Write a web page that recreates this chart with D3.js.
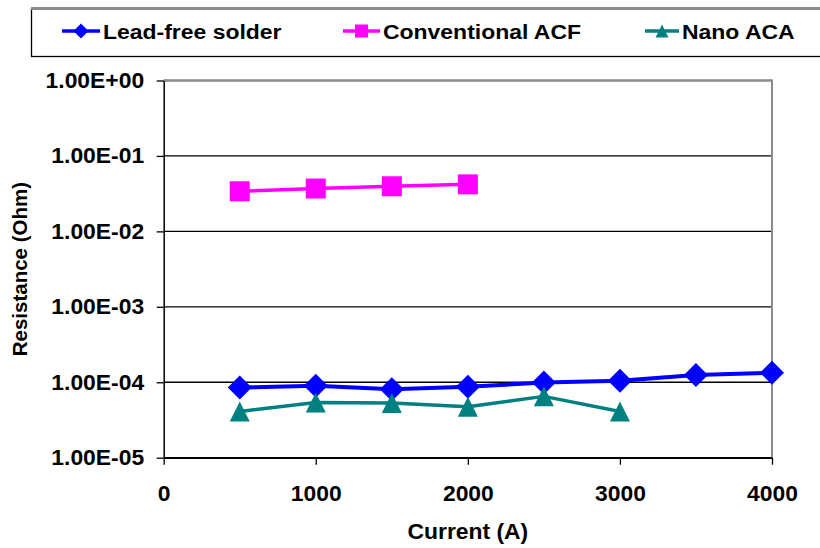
<!DOCTYPE html>
<html>
<head>
<meta charset="utf-8">
<script src="https://cdn.jsdelivr.net/npm/d3@7"></script>
<style>
  body { margin: 0; background: #fff; }
  text { font-family: "Liberation Sans", Arial, sans-serif; font-weight: bold; fill: #000; }
</style>
</head>
<body>
<div id="chart"></div>
<script>
// data
const currents = [500, 1000, 1500, 2000, 2500, 3000, 3500, 4000];
const leadFree = [8.5e-5, 9.0e-5, 8.1e-5, 8.7e-5, 9.9e-5, 1.05e-4, 1.25e-4, 1.34e-4];
const convACF = [0.034, 0.037, 0.0396, 0.042];
const nanoACA = [4.1e-5, 5.4e-5, 5.3e-5, 4.75e-5, 6.5e-5, 4.1e-5];
const xTicks = [0, 1000, 2000, 3000, 4000];
const yTicks = [1, 1e-1, 1e-2, 1e-3, 1e-4, 1e-5];
const yTickLabels = ['1.00E+00', '1.00E-01', '1.00E-02', '1.00E-03', '1.00E-04', '1.00E-05'];

const series = [
  { name: 'Lead-free solder', values: leadFree, color: '#0000FF', marker: 'diamond', lw: 4, size: 24 },
  { name: 'Conventional ACF', values: convACF, color: '#FF00FF', marker: 'square', lw: 3.5, size: 20 },
  { name: 'Nano ACA', values: nanoACA, color: '#008080', marker: 'triangle', lw: 3.5, size: 20 }
];

const W = 820, H = 548;
const plot = { left: 163.7, right: 772, top: 80.5, bottom: 457.7 };
const FS = 22;   // axis text size
const SX = 1.04; // picture text is a bit wider than normal Arial bold

const svg = d3.select('#chart').append('svg')
  .attr('width', W).attr('height', H);

const x = d3.scaleLinear().domain([0, 4000]).range([plot.left, plot.right]);
const y = d3.scaleLog().domain([1e-5, 1]).range([plot.bottom, plot.top]);

// marker path, centred on 0,0
function markerPath(type, s) {
  const h = s / 2;
  if (type === 'diamond') return `M0,${-h}L${h},0L0,${h}L${-h},0Z`;
  if (type === 'square') return `M${-h},${-h}H${h}V${h}H${-h}Z`;
  return `M0,${-h}L${h},${h}L${-h},${h}Z`;
}

// gridlines
svg.append('g')
  .selectAll('line')
  .data(yTicks)
  .enter().append('line')
  .attr('x1', plot.left).attr('x2', plot.right)
  .attr('y1', d => y(d)).attr('y2', d => y(d))
  .attr('stroke', '#000').attr('stroke-width', 1.3);

// plot area border (grey, top and right)
svg.append('path')
  .attr('d', `M${plot.left},${plot.top}H${plot.right}V${plot.bottom}`)
  .attr('fill', 'none').attr('stroke', '#8c8c8c').attr('stroke-width', 2);

// y axis
const yAxis = svg.append('g')
  .attr('transform', `translate(${plot.left},0)`)
  .call(d3.axisLeft(y)
    .tickValues(yTicks)
    .tickFormat((d, i) => yTickLabels[i])
    .tickSizeInner(7).tickSizeOuter(0).tickPadding(11.8));
yAxis.select('.domain').attr('stroke', '#000').attr('stroke-width', 1.5);
yAxis.selectAll('.tick line').attr('stroke', '#000').attr('stroke-width', 1.3);
yAxis.selectAll('.tick text')
  .attr('font-size', FS).attr('font-family', null)
  .attr('transform', `scale(${SX},1)`);

// x axis
const xAxis = svg.append('g')
  .attr('transform', `translate(0,${plot.bottom})`)
  .call(d3.axisBottom(x)
    .tickValues(xTicks)
    .tickFormat(d3.format('d'))
    .tickSizeInner(7).tickSizeOuter(0).tickPadding(21));
xAxis.select('.domain').attr('stroke', '#000').attr('stroke-width', 1.5);
xAxis.selectAll('.tick line').attr('stroke', '#000').attr('stroke-width', 1.3);
xAxis.selectAll('.tick text')
  .attr('font-size', FS).attr('font-family', null)
  .attr('transform', `scale(${SX},1)`);

// axis titles
svg.append('g')
  .attr('transform', `translate(${(plot.left + plot.right) / 2},539) scale(${SX},1)`)
  .append('text')
  .attr('text-anchor', 'middle')
  .attr('font-size', FS)
  .text('Current (A)');

svg.append('text')
  .attr('transform', `translate(27,${(plot.top + plot.bottom) / 2}) rotate(-90)`)
  .attr('text-anchor', 'middle')
  .attr('font-size', 20.5)
  .text('Resistance (Ohm)');

// series lines + markers
series.forEach(s => {
  const pts = s.values.map((v, i) => [currents[i], v]);
  svg.append('path')
    .datum(pts)
    .attr('fill', 'none')
    .attr('stroke', s.color)
    .attr('stroke-width', s.lw)
    .attr('stroke-linejoin', 'round')
    .attr('d', d3.line().x(d => x(d[0])).y(d => y(d[1])));
  svg.append('g')
    .selectAll('path')
    .data(pts)
    .enter().append('path')
    .attr('transform', d => `translate(${x(d[0])},${y(d[1])})`)
    .attr('d', markerPath(s.marker, s.size))
    .attr('fill', s.color);
});

// legend
svg.append('rect')
  .attr('x', 31.5).attr('y', 8.5).attr('width', 800).attr('height', 48)
  .attr('fill', '#fff').attr('stroke', '#000').attr('stroke-width', 1.3);
svg.append('line')
  .attr('x1', 31).attr('x2', 820).attr('y1', 8.5).attr('y2', 8.5)
  .attr('stroke', '#8c8c8c').attr('stroke-width', 3);

const legendX = [62, 343, 645];
const legendLen = [38, 37, 34];
const legendSize = [15, 13, 13];
series.forEach((s, i) => {
  const g = svg.append('g').attr('transform', `translate(${legendX[i]},31)`);
  g.append('line')
    .attr('x1', 0).attr('x2', legendLen[i])
    .attr('stroke', s.color).attr('stroke-width', 3.5);
  g.append('path')
    .attr('transform', `translate(${legendLen[i] / 2},0)`)
    .attr('d', markerPath(s.marker, legendSize[i]))
    .attr('fill', s.color);
  g.append('g')
    .attr('transform', `translate(${legendLen[i] + 3},7.5) scale(1.12,1)`)
    .append('text')
    .attr('font-size', 20.5)
    .text(s.name);
});
</script>
</body>
</html>
